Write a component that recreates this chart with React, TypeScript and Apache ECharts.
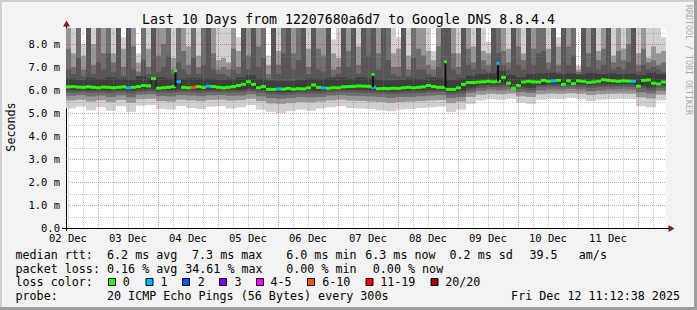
import React, { useEffect, useRef } from 'react';
import * as echarts from 'echarts';

// ---- time frame (hours since 02 Dec 00:00) ----
const tStart = 11.2106; // Tue 02 Dec 11:12:38
const tEnd = 251.2106; // Fri 12 Dec 11:12:38
const stepHours = 2;
const yMax = 8.7;

// ---- median RTT per 2h step (ms) ----
const median = [
  6.14, 6.15, 6.13, 6.12, 6.14, 6.12, 6.10, 6.13, 6.12, 6.10,
  6.12, 6.14, 6.10, 6.12, 6.15, 6.20, 6.18, 6.50, 6.08, 6.10,
  6.12, 6.15, 6.36, 6.12, 6.10, 6.12, 6.15, 6.12, 6.17, 6.15,
  6.12, 6.10, 6.12, 6.15, 6.20, 6.25, 6.36, 6.25, 6.10, 6.15,
  6.03, 6.03, 6.05, 6.04, 6.07, 6.04, 6.06, 6.05, 6.10, 6.22,
  6.12, 6.10, 6.08, 6.10, 6.10, 6.14, 6.15, 6.16, 6.18, 6.17,
  6.16, 6.12, 6.06, 6.07, 6.06, 6.08, 6.07, 6.10, 6.12, 6.10,
  6.12, 6.14, 6.20, 6.15, 6.12, 6.12, 6.03, 6.03, 6.10, 6.25,
  6.33, 6.33, 6.35, 6.36, 6.38, 6.36, 6.38, 6.55, 6.30, 6.07,
  6.20, 6.35, 6.38, 6.36, 6.35, 6.42, 6.38, 6.40, 6.42, 6.25,
  6.40, 6.28, 6.40, 6.38, 6.33, 6.35, 6.38, 6.45, 6.42, 6.40,
  6.38, 6.40, 6.39, 6.38, 6.17, 6.42, 6.44, 6.30, 6.27, 6.35,
];

// ---- lost pings (of 20) per step ----
const lossPings = [
  0, 0, 0, 0, 0, 0, 0, 0, 0, 0,
  0, 0, 1, 0, 0, 0, 0, 0, 0, 0,
  0, 0, 1, 0, 0, 7, 0, 0, 1, 0,
  0, 0, 0, 0, 0, 0, 0, 0, 0, 0,
  0, 0, 1, 0, 0, 0, 0, 0, 0, 0,
  0, 1, 0, 0, 0, 0, 0, 0, 0, 0,
  0, 1, 0, 0, 0, 0, 0, 0, 0, 0,
  0, 0, 0, 0, 0, 0, 0, 0, 0, 0,
  0, 0, 0, 0, 0, 0, 0, 0, 0, 0,
  0, 0, 0, 0, 0, 0, 0, 1, 0, 0,
  0, 0, 0, 0, 0, 0, 0, 0, 0, 0,
  0, 0, 0, 1, 0, 0, 0, 0, 0, 0,
];

// ---- short median spikes ----
const spikeHours = [55.0, 134.0, 163.0, 184.0];
const spikeMs = [6.84, 6.68, 7.23, 7.16];
const spikeLoss = [0, 0, 0, 1];

// ---- smoke: upper edges of the ping bands, outer -> inner (per 2h step) ----
const smokeTop1 = [
  9.5, 9.5, 9.5, 8.0, 9.5, 9.5, 9.5, 9.5, 9.5, 9.5,
  9.5, 8.3, 9.5, 9.5, 7.6, 9.5, 9.5, 9.5, 9.5, 9.5,
  9.5, 9.5, 9.5, 9.5, 9.5, 9.5, 9.5, 9.5, 9.5, 9.5,
  9.5, 9.5, 9.5, 9.5, 8.3, 9.5, 9.5, 9.5, 9.5, 9.5,
  7.5, 9.5, 9.5, 9.5, 9.5, 9.5, 9.5, 9.5, 9.5, 9.5,
  9.5, 9.5, 9.5, 8.2, 9.5, 9.5, 9.5, 9.5, 9.5, 9.5,
  9.5, 9.5, 9.5, 9.5, 9.5, 9.5, 8.3, 9.5, 9.5, 9.5,
  9.5, 9.5, 9.5, 7.7, 9.5, 9.5, 9.5, 9.5, 9.5, 9.5,
  9.5, 9.5, 9.5, 9.5, 8.1, 9.5, 9.5, 9.5, 9.5, 9.5,
  9.5, 9.5, 9.5, 9.5, 9.5, 9.5, 9.5, 9.5, 8.3, 9.5,
  9.5, 9.5, 7.1, 9.5, 9.5, 9.5, 9.5, 9.5, 9.5, 9.5,
  9.5, 9.5, 9.5, 9.5, 9.5, 9.5, 9.5, 9.5, 9.5, 8.3,
];
const smokeTop2 = [
  9.5, 7.6, 9.5, 7.5, 9.5, 8.0, 9.5, 9.5, 9.5, 7.6,
  9.5, 7.8, 9.5, 9.5, 7.2, 9.5, 7.8, 9.5, 9.5, 9.5,
  9.5, 7.4, 9.5, 9.5, 7.9, 9.5, 7.5, 9.5, 9.5, 9.5,
  7.3, 7.4, 7.2, 9.5, 7.7, 9.5, 9.5, 9.5, 9.5, 9.5,
  7.1, 9.5, 7.7, 9.5, 9.5, 9.5, 9.5, 9.5, 7.8, 9.5,
  9.5, 9.5, 9.5, 7.6, 7.4, 9.5, 9.5, 9.5, 7.9, 9.5,
  9.5, 9.5, 9.5, 9.5, 9.5, 7.6, 7.8, 9.5, 7.5, 9.5,
  9.5, 9.5, 7.7, 7.3, 9.5, 9.5, 9.5, 9.5, 7.6, 9.5,
  9.5, 7.9, 9.5, 7.7, 7.6, 9.5, 9.5, 9.5, 7.8, 9.5,
  9.5, 7.6, 9.5, 9.5, 9.5, 9.5, 7.8, 9.5, 7.9, 9.5,
  9.5, 9.5, 6.9, 9.5, 9.5, 9.5, 7.7, 9.5, 9.5, 7.5,
  9.5, 7.8, 9.5, 9.5, 7.6, 9.5, 7.4, 7.9, 7.6, 7.7,
];
const smokeTop3 = [
  7.8, 7.0, 9.5, 6.9, 9.5, 7.1, 9.5, 7.6, 9.5, 7.2,
  9.5, 7.0, 9.5, 7.9, 6.8, 9.5, 7.0, 9.5, 7.5, 8.0,
  9.5, 6.9, 9.5, 7.7, 7.1, 9.5, 7.0, 9.5, 9.5, 7.6,
  6.9, 7.0, 6.9, 7.8, 7.0, 9.5, 7.5, 9.5, 7.9, 9.5,
  6.7, 9.5, 7.1, 9.5, 9.5, 7.6, 9.5, 9.5, 7.0, 9.5,
  7.8, 7.5, 9.5, 6.9, 7.0, 9.5, 7.7, 9.5, 7.1, 9.5,
  9.5, 9.5, 7.6, 9.5, 9.5, 7.0, 7.0, 9.5, 6.9, 9.5,
  7.8, 7.5, 7.1, 6.9, 7.9, 9.5, 9.5, 7.6, 7.0, 9.5,
  7.8, 7.2, 9.5, 7.3, 7.1, 9.5, 9.5, 7.7, 7.2, 9.5,
  7.9, 7.3, 9.5, 7.8, 9.5, 9.5, 7.2, 9.5, 7.1, 9.5,
  7.9, 9.5, 6.8, 9.5, 7.6, 9.5, 7.3, 7.8, 9.5, 7.2,
  7.7, 7.3, 8.0, 9.5, 7.1, 7.8, 7.2, 7.3, 7.1, 7.2,
];
const smokeTop4 = [
  6.9, 6.7, 7.4, 6.6, 9.5, 6.7, 7.2, 6.9, 7.6, 6.8,
  9.5, 6.6, 9.5, 6.9, 6.6, 7.3, 6.7, 9.5, 6.8, 7.0,
  7.5, 6.7, 7.2, 6.9, 6.7, 7.4, 6.7, 7.1, 9.5, 6.9,
  6.7, 6.7, 6.6, 6.9, 6.7, 9.5, 6.9, 9.5, 7.0, 7.4,
  6.5, 9.5, 6.7, 7.6, 9.5, 6.9, 7.3, 9.5, 6.7, 9.5,
  6.9, 6.8, 9.5, 6.6, 6.7, 9.5, 7.0, 9.5, 6.7, 9.5,
  7.5, 9.5, 6.9, 9.5, 7.3, 6.7, 6.6, 9.5, 6.6, 7.4,
  6.9, 6.9, 6.7, 6.6, 7.0, 9.5, 9.5, 6.9, 6.7, 9.5,
  7.1, 6.9, 9.5, 6.9, 6.8, 9.5, 7.6, 7.1, 6.9, 9.5,
  7.1, 6.9, 9.5, 7.1, 7.6, 7.7, 6.9, 9.5, 6.8, 9.5,
  7.1, 7.5, 6.7, 9.5, 7.0, 9.5, 6.9, 7.1, 9.5, 6.9,
  7.0, 6.9, 7.2, 9.5, 6.8, 7.1, 6.9, 7.0, 6.9, 6.8,
];
// innermost band (per 4h)
const smokeTop5 = [
  6.50, 6.45, 6.52, 6.48, 6.55, 6.50, 6.46, 6.60, 6.52, 6.55,
  6.50, 6.48, 6.53, 6.50, 6.50, 6.45, 6.48, 6.55, 6.65, 6.50,
  6.42, 6.40, 6.40, 6.45, 6.50, 6.48, 6.52, 6.55, 6.50, 6.55,
  6.50, 6.45, 6.42, 6.45, 6.50, 6.48, 6.55, 6.52, 6.45, 6.50,
  6.62, 6.70, 6.72, 6.85, 6.65, 6.55, 6.70, 6.72, 6.75, 6.70,
  6.72, 6.68, 6.75, 6.70, 6.72, 6.70, 6.72, 6.65, 6.75, 6.70,
];
// lower edges of the ping bands (per 4h), outer -> inner
const smokeBottom1 = [
  5.20, 5.28, 5.12, 5.25, 5.10, 5.30, 5.05, 5.32, 5.35, 5.18,
  5.15, 5.30, 5.22, 5.18, 5.28, 5.30, 5.20, 5.25, 5.35, 5.15,
  5.05, 5.00, 5.08, 5.15, 5.10, 5.20, 5.25, 5.30, 5.22, 5.20,
  5.18, 5.12, 5.08, 5.15, 5.18, 5.22, 5.25, 5.28, 5.05, 5.15,
  5.40, 5.55, 5.60, 5.58, 5.62, 5.45, 5.40, 5.58, 5.62, 5.60,
  5.65, 5.60, 5.52, 5.58, 5.60, 5.62, 5.60, 5.30, 5.25, 5.55,
];
const smokeBottom2 = [
  5.55, 5.58, 5.50, 5.56, 5.48, 5.57, 5.45, 5.60, 5.62, 5.52,
  5.50, 5.58, 5.55, 5.52, 5.57, 5.58, 5.54, 5.56, 5.62, 5.52,
  5.42, 5.40, 5.43, 5.48, 5.46, 5.50, 5.55, 5.58, 5.54, 5.53,
  5.50, 5.48, 5.44, 5.48, 5.50, 5.52, 5.55, 5.57, 5.43, 5.50,
  5.70, 5.80, 5.84, 5.82, 5.85, 5.73, 5.70, 5.82, 5.85, 5.84,
  5.86, 5.84, 5.78, 5.82, 5.84, 5.85, 5.84, 5.68, 5.63, 5.80,
];
const smokeBottom3 = [
  5.75, 5.78, 5.72, 5.76, 5.70, 5.77, 5.68, 5.80, 5.82, 5.74,
  5.72, 5.78, 5.76, 5.73, 5.77, 5.78, 5.75, 5.76, 5.82, 5.73,
  5.65, 5.62, 5.65, 5.70, 5.68, 5.70, 5.76, 5.78, 5.75, 5.74,
  5.72, 5.70, 5.66, 5.70, 5.70, 5.73, 5.76, 5.78, 5.65, 5.70,
  5.88, 5.98, 6.02, 6.00, 6.03, 5.92, 5.88, 6.00, 6.03, 6.02,
  6.05, 6.02, 5.96, 6.00, 6.02, 6.03, 6.02, 5.90, 5.85, 5.98,
];
const smokeBottom4 = [
  5.90, 5.91, 5.89, 5.90, 5.87, 5.91, 5.85, 5.92, 5.95, 5.89,
  5.88, 5.92, 5.90, 5.89, 5.91, 5.92, 5.90, 5.91, 5.95, 5.89,
  5.82, 5.80, 5.81, 5.85, 5.85, 5.85, 5.90, 5.92, 5.90, 5.89,
  5.87, 5.85, 5.83, 5.85, 5.86, 5.88, 5.91, 5.92, 5.81, 5.85,
  6.00, 6.10, 6.13, 6.13, 6.15, 6.05, 6.00, 6.13, 6.15, 6.15,
  6.17, 6.15, 6.10, 6.13, 6.14, 6.15, 6.15, 6.07, 6.00, 6.11,
];
const smokeBottom5 = [
  6.00, 6.00, 5.99, 6.00, 5.98, 6.00, 5.97, 6.02, 6.05, 5.98,
  5.98, 6.02, 6.00, 6.00, 6.00, 6.02, 6.00, 6.00, 6.05, 6.00,
  5.92, 5.90, 5.92, 5.94, 5.95, 5.95, 6.00, 6.02, 6.00, 6.00,
  5.98, 5.95, 5.94, 5.95, 5.96, 5.98, 6.00, 6.02, 5.92, 5.96,
  6.10, 6.20, 6.22, 6.24, 6.25, 6.15, 6.10, 6.22, 6.25, 6.25,
  6.26, 6.25, 6.20, 6.24, 6.24, 6.25, 6.26, 6.20, 6.12, 6.22,
];

// ---- axis ticks ----
const xTickHours = [12, 36, 60, 84, 108, 132, 156, 180, 204, 228];
const xTickLabels = ['02 Dec', '03 Dec', '04 Dec', '05 Dec', '06 Dec', '07 Dec', '08 Dec', '09 Dec', '10 Dec', '11 Dec'];
const yTicks = [0, 1, 2, 3, 4, 5, 6, 7, 8];
const yTickLabels = ['0.0', '1.0 m', '2.0 m', '3.0 m', '4.0 m', '5.0 m', '6.0 m', '7.0 m', '8.0 m'];

// ---- texts ----
const titleText = 'Last 10 Days from 12207680a6d7 to Google DNS 8.8.4.4';
const yAxisName = 'Seconds';
const rowHeads = ['median rtt:', 'packet loss:', 'loss color:', 'probe:'];
const rttStats = ['6.2 ms avg', '7.3 ms max', '6.0 ms min', '6.3 ms now', '0.2 ms sd', '39.5', 'am/s'];
const lossStats = ['0.16 % avg', '34.61 % max', '0.00 % min', '0.00 % now'];
const lossLegend = ['0', '1', '2', '3', '4-5', '6-10', '11-19', '20/20'];
const probeText = '20 ICMP Echo Pings (56 Bytes) every 300s';
const dateText = 'Fri Dec 12 11:12:38 2025';
const sideText = 'RRDTOOL / TOBI OETIKER';

// ---- styles / layout ----
const W = 697;
const H = 310;
const MONO = '"DejaVu Sans Mono", monospace';
const LOSS_COLORS = ['#26ff00', '#00b8ff', '#0059ff', '#7e00ff', '#ff00ff', '#ff5500', '#ff0000', '#a10000'];
const SMOKE_COLORS = ['#d0d0d0', '#979797', '#6e6e6e', '#575757', '#3e3e3e'];
const MINOR_GRID = 'rgba(130,130,130,0.45)';
const MAJOR_GRID = 'rgba(175,40,40,0.45)';
const ARROW = '#7f1f1f';
const rowY = [255, 268.5, 282, 296];
const colX = 107;
const rttX = [107, 192, 286.2, 365.2, 449.5, 529.5, 578.8];
const lossX = [107, 185.2, 286.2, 372.8];
const boxX = [108, 145.5, 182, 219, 256, 307, 365.5, 430.5];
const boxLabelX = [122.8, 160.5, 197.8, 234.5, 270.5, 322.2, 380.2, 445.2];

function lossColor(n: number): string {
  if (n <= 0) return LOSS_COLORS[0];
  if (n === 1) return LOSS_COLORS[1];
  if (n === 2) return LOSS_COLORS[2];
  if (n === 3) return LOSS_COLORS[3];
  if (n <= 5) return LOSS_COLORS[4];
  if (n <= 10) return LOSS_COLORS[5];
  if (n <= 19) return LOSS_COLORS[6];
  return LOSS_COLORS[7];
}

const colStart = (i: number) => tStart + i * stepHours;

function buildOption() {
  const ups = [smokeTop1, smokeTop2, smokeTop3, smokeTop4];
  const lows = [smokeBottom1, smokeBottom2, smokeBottom3, smokeBottom4];
  const smokeData: number[][] = [];
  for (let b = 0; b < 4; b++) {
    for (let i = 0; i < median.length; i++) {
      smokeData.push([colStart(i), colStart(i + 1), lows[b][i >> 1], ups[b][i], b]);
    }
  }
  for (let j = 0; j < smokeTop5.length; j++) {
    smokeData.push([colStart(2 * j), colStart(2 * j + 2), smokeBottom5[j], smokeTop5[j], 4]);
  }

  const medianBoxes = median.map((m, i) => [colStart(i), colStart(i + 1), m, lossPings[i]]);
  const stepLine = median.map((m, i) => [colStart(i), m]);
  stepLine.push([tEnd, median[median.length - 1]]);
  const spikes = spikeHours.map((h, k) => {
    const idx = Math.floor((h - tStart) / stepHours);
    return [h, spikeMs[k], median[idx], spikeLoss[k]];
  });

  // grid positions
  const minorX: number[] = [];
  const majorX: number[] = [];
  for (let h = 6; h < tEnd; h += 6) {
    if (h <= tStart) continue;
    if (h % 24 === 0) majorX.push(h);
    else minorX.push(h);
  }
  const minorY: number[] = [];
  const majorY: number[] = [];
  for (let v = 0.5; v < yMax; v += 0.5) {
    if (Math.abs(v - Math.round(v)) < 1e-6) majorY.push(v);
    else minorY.push(v);
  }

  const gridRender = (params: any, api: any) => {
    const cs = params.coordSys;
    const children: any[] = [];
    const vline = (h: number, color: string) => {
      const x = Math.round(api.coord([h, 0])[0]) + 0.5;
      children.push({
        type: 'line',
        shape: { x1: x, y1: cs.y, x2: x, y2: cs.y + cs.height },
        style: { stroke: color, lineWidth: 1, lineDash: [1, 1] },
      });
    };
    const hline = (v: number, color: string) => {
      const y = Math.round(api.coord([tStart, v])[1]) + 0.5;
      children.push({
        type: 'line',
        shape: { x1: cs.x, y1: y, x2: cs.x + cs.width, y2: y },
        style: { stroke: color, lineWidth: 1, lineDash: [1, 1] },
      });
    };
    minorX.forEach((h) => vline(h, MINOR_GRID));
    minorY.forEach((v) => hline(v, MINOR_GRID));
    majorX.forEach((h) => vline(h, MAJOR_GRID));
    majorY.forEach((v) => hline(v, MAJOR_GRID));
    return { type: 'group', children };
  };

  const graphic: any[] = [];
  // frame
  graphic.push({ type: 'rect', shape: { x: 0, y: 0, width: W, height: 2 }, style: { fill: '#cfcfcf' } });
  graphic.push({ type: 'rect', shape: { x: 0, y: 0, width: 2, height: H }, style: { fill: '#cfcfcf' } });
  graphic.push({ type: 'rect', shape: { x: 0, y: H - 3, width: W, height: 3 }, style: { fill: '#9e9e9e' } });
  graphic.push({ type: 'rect', shape: { x: W - 3, y: 0, width: 3, height: H }, style: { fill: '#9e9e9e' } });
  // axes
  graphic.push({ type: 'line', shape: { x1: 62, y1: 228.5, x2: 669, y2: 228.5 }, style: { stroke: '#000', lineWidth: 1 } });
  graphic.push({ type: 'line', shape: { x1: 66.5, y1: 231, x2: 66.5, y2: 25 }, style: { stroke: '#000', lineWidth: 1 } });
  graphic.push({ type: 'polygon', shape: { points: [[66.5, 20.5], [63, 26.5], [70, 26.5]] }, style: { fill: ARROW } });
  graphic.push({ type: 'polygon', shape: { points: [[674.5, 228.5], [668.5, 225], [668.5, 232]] }, style: { fill: ARROW } });
  // title
  graphic.push({
    type: 'text', x: W / 2, y: 19,
    style: { text: titleText, fontFamily: MONO, fontSize: 13.2, fill: '#000', align: 'center', verticalAlign: 'middle' },
  });
  // y axis name
  graphic.push({
    type: 'text', x: 11, y: 127, rotation: Math.PI / 2,
    style: { text: yAxisName, fontFamily: MONO, fontSize: 11.7, fill: '#000', align: 'center', verticalAlign: 'middle' },
  });
  // side text
  graphic.push({
    type: 'text', x: 688.5, y: 5, rotation: -Math.PI / 2,
    style: { text: sideText, fontFamily: MONO, fontSize: 8.3, fill: '#aaaaaa', align: 'left', verticalAlign: 'middle' },
  });
  const txt = (x: number, y: number, text: string, align = 'left') => ({
    type: 'text', x, y,
    style: { text, fontFamily: MONO, fontSize: 11.7, fill: '#000', align, verticalAlign: 'middle' },
  });
  rowHeads.forEach((t, r) => graphic.push(txt(15.5, rowY[r], t)));
  rttStats.forEach((t, k) => graphic.push(txt(rttX[k], rowY[0], t)));
  lossStats.forEach((t, k) => graphic.push(txt(lossX[k], rowY[1], t)));
  lossLegend.forEach((t, k) => {
    graphic.push({
      type: 'rect', shape: { x: boxX[k] + 0.5, y: rowY[2] - 3.5, width: 7, height: 7 },
      style: { fill: LOSS_COLORS[k], stroke: '#000', lineWidth: 1 },
    });
    graphic.push(txt(boxLabelX[k], rowY[2], t));
  });
  graphic.push(txt(colX, rowY[3], probeText));
  graphic.push(txt(680, rowY[3], dateText, 'right'));

  return {
    animation: false,
    backgroundColor: '#f3f3f3',
    grid: { left: 66, top: 28, width: 600, height: 200, show: true, backgroundColor: '#ffffff', borderWidth: 0 },
    xAxis: {
      type: 'value', min: tStart, max: tEnd,
      axisLine: { show: false }, axisTick: { show: false }, splitLine: { show: false },
      axisLabel: {
        customValues: xTickHours,
        formatter: (v: number) => {
          const i = xTickHours.findIndex((h) => Math.abs(h - v) < 1e-6);
          return i >= 0 ? xTickLabels[i] : '';
        },
        fontFamily: MONO, fontSize: 10.5, lineHeight: 10, color: '#000', margin: 5,
      },
    },
    yAxis: {
      type: 'value', min: 0, max: yMax, interval: 1,
      axisLine: { show: false }, axisTick: { show: false }, splitLine: { show: false },
      axisLabel: {
        showMaxLabel: false,
        formatter: (v: number) => {
          const i = yTicks.findIndex((t) => Math.abs(t - v) < 1e-6);
          return i >= 0 ? yTickLabels[i] : '';
        },
        fontFamily: MONO, fontSize: 10.5, lineHeight: 9, color: '#000', margin: 6,
      },
    },
    series: [
      {
        type: 'custom', name: 'smoke', z: 1, clip: true, silent: true, progressive: 0,
        encode: { x: [0, 1], y: [2, 3] },
        data: smokeData,
        renderItem: (params: any, api: any) => {
          const a = api.coord([api.value(0), Math.min(api.value(3), yMax)]);
          const b = api.coord([api.value(1), api.value(2)]);
          return {
            type: 'rect',
            shape: { x: a[0], y: a[1], width: b[0] - a[0], height: b[1] - a[1] },
            style: { fill: SMOKE_COLORS[api.value(4)] },
          };
        },
      },
      {
        type: 'custom', name: 'grid', z: 2, silent: true,
        encode: { x: 0, y: 1 },
        data: [[tStart, 0]],
        renderItem: gridRender,
      },
      {
        type: 'line', name: 'median', z: 3, step: 'end', symbol: 'none', silent: true,
        data: stepLine,
        lineStyle: { color: '#1a1a1a', width: 1 },
      },
      {
        type: 'custom', name: 'loss', z: 4, silent: true,
        encode: { x: [0, 1], y: 2 },
        data: medianBoxes,
        renderItem: (params: any, api: any) => {
          const a = api.coord([api.value(0), api.value(2)]);
          const b = api.coord([api.value(1), api.value(2)]);
          return {
            type: 'rect',
            shape: { x: a[0], y: a[1] - 1.5, width: b[0] - a[0], height: 3 },
            style: { fill: lossColor(api.value(3)) },
          };
        },
      },
      {
        type: 'custom', name: 'spikes', z: 5, silent: true,
        encode: { x: 0, y: [1, 2] },
        data: spikes,
        renderItem: (params: any, api: any) => {
          const top = api.coord([api.value(0), api.value(1)]);
          const bot = api.coord([api.value(0), api.value(2)]);
          return {
            type: 'group',
            children: [
              { type: 'line', shape: { x1: top[0], y1: top[1], x2: bot[0], y2: bot[1] }, style: { stroke: '#111', lineWidth: 2 } },
              { type: 'rect', shape: { x: top[0] - 1.5, y: top[1] - 1.5, width: 3, height: 3 }, style: { fill: lossColor(api.value(3)) } },
            ],
          };
        },
      },
    ],
    graphic,
  };
}

export default function App() {
  const ref = useRef<HTMLDivElement>(null);
  useEffect(() => {
    if (!ref.current) return;
    const chart = echarts.init(ref.current, null, { renderer: 'svg', width: W, height: H });
    chart.setOption(buildOption() as any);
    return () => chart.dispose();
  }, []);
  return <div ref={ref} style={{ position: 'absolute', left: 0, top: 0, width: W, height: H }} />;
}
